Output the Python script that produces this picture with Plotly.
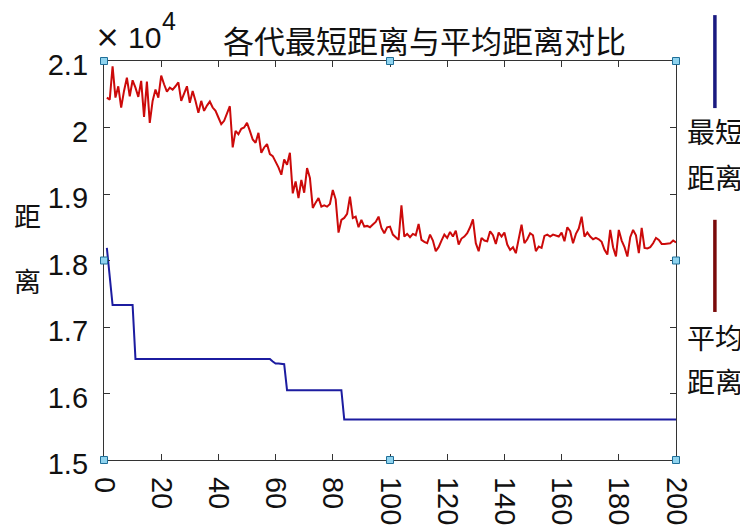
import plotly.graph_objects as go

generations = list(range(1, 201))

best_distance = (
    [18190, 17760] + [17330] * 8 + [16520] * 48 + [16480, 16450, 16450, 16450, 16440]
    + [16050] * 20 + [15610] * 117
)

mean_distance = [
    20450, 20420, 20920, 20450, 20620, 20300, 20550, 20750, 20470, 20710,
    20600, 20460, 20700, 20160, 20690, 20070, 20400, 20570, 20450, 20780,
    20650, 20540, 20600, 20570, 20620, 20680, 20400, 20500, 20620, 20370,
    20550, 20400, 20220, 20400, 20250, 20330, 20390, 20300, 20250, 20150,
    20050, 20100, 20200, 20320, 19700, 19950, 19900, 19980, 20000, 20070,
    19950, 19820, 19770, 19920, 19620, 19700, 19750, 19600, 19570, 19490,
    19400, 19290, 19520, 19440, 19620, 19010, 19190, 18940, 19210, 19020,
    19390, 19240, 18790, 18870, 18940, 18810, 18830, 18810, 18850, 19060,
    18920, 18420, 18610, 18640, 18700, 18960, 18640, 18660, 18500, 18610,
    18510, 18520, 18500, 18540, 18580, 18660, 18490, 18410, 18500, 18510,
    18390, 18350, 18310, 18830, 18360, 18400, 18350, 18400, 18380, 18550,
    18310, 18280, 18260, 18390, 18300, 18140, 18200, 18300, 18390, 18340,
    18430, 18360, 18450, 18240, 18330, 18360, 18410, 18500, 18620, 18260,
    18140, 18340, 18300, 18290, 18440, 18380, 18250, 18420, 18360, 18420,
    18240, 18160, 18200, 18110, 18300, 18540, 18260, 18320, 18410, 18380,
    18140, 18210, 18190, 18370, 18390, 18360, 18390, 18370, 18360, 18420,
    18290, 18500, 18440, 18260, 18400, 18480, 18660, 18360, 18420, 18360,
    18320, 18340, 18320, 18280, 18160, 18090, 18460, 18200, 18060, 18460,
    18300, 18200, 18060, 18350, 18460, 18380, 18110, 18490, 18190, 18180,
    18200, 18260, 18340, 18310, 18250, 18250, 18250, 18260, 18300, 18270,
]

x_ticks = [0, 20, 40, 60, 80, 100, 120, 140, 160, 180, 200]
y_ticks = [15000, 16000, 17000, 18000, 19000, 20000, 21000]
y_tick_labels = ["1.5", "1.6", "1.7", "1.8", "1.9", "2", "2.1"]

title_text = "各代最短距离与平均距离对比"
y_title_chars = ["距", "离"]
legend_best = ["最短", "距离"]
legend_mean = ["平均", "距离"]
scale_sign = "×"
scale_base = "10"
scale_exp = "4"

NUM_FONT = "Liberation Sans, Arial, sans-serif"
CJK_FONT = "Noto Sans CJK SC, sans-serif"
BLUE = "#1c1ca0"
RED = "#cc0a0a"

fig = go.Figure()
fig.add_trace(go.Scatter(x=generations, y=best_distance, mode="lines",
                         line=dict(color=BLUE, width=2), showlegend=False))
fig.add_trace(go.Scatter(x=generations, y=mean_distance, mode="lines",
                         line=dict(color=RED, width=2), showlegend=False))

axis_common = dict(showline=True, linecolor="#333333", linewidth=1.3, mirror="ticks",
                   ticks="inside", ticklen=6, tickcolor="#333333", showgrid=False,
                   zeroline=False, automargin=False,
                   tickfont=dict(family=NUM_FONT, size=29, color="#111111"))
fig.update_xaxes(range=[0, 200], tickvals=x_ticks, tickangle=90, ticklabelstandoff=10,
                 **axis_common)
fig.update_yaxes(range=[15000, 21000], tickvals=y_ticks, ticktext=y_tick_labels,
                 ticklabelstandoff=9, ticklabelshift=4, **axis_common)

shapes = []
# selection handles at the plot box corners / midpoints
for hx, hy in [(0, 1), (0.5, 1), (1, 1), (0, 0.5), (1, 0.5), (0, 0), (0.5, 0), (1, 0)]:
    shapes.append(dict(type="rect", xref="paper", yref="paper", xsizemode="pixel",
                       ysizemode="pixel", xanchor=hx, yanchor=hy, x0=-3.5, x1=3.5,
                       y0=-3.5, y1=3.5, fillcolor="#8fd3ee",
                       line=dict(color="#1f6f99", width=1)))
# legend lines (vertical)
shapes.append(dict(type="line", xref="paper", yref="paper", x0=1.068, x1=1.068,
                   y0=0.882, y1=1.115, line=dict(color="#1a1a80", width=3.5)))
shapes.append(dict(type="line", xref="paper", yref="paper", x0=1.068, x1=1.068,
                   y0=0.371, y1=0.602, line=dict(color="#7a0a0a", width=3.5)))


def note(text, x, y, size, font=CJK_FONT, xanchor="center"):
    return dict(text=text, xref="paper", yref="paper", x=x, y=y, xanchor=xanchor,
                yanchor="middle", showarrow=False,
                font=dict(family=font, size=size, color="#111111"))


annotations = [
    note(title_text, 0.561, 1.053, 31),
    note(scale_sign, 0.006, 1.062, 30, font="DejaVu Sans, sans-serif"),
    note(scale_base, 0.0385, 1.058, 30, font=NUM_FONT, xanchor="left"),
    note(scale_exp, 0.114, 1.099, 25, font=NUM_FONT),
    note(y_title_chars[0], -0.133, 0.614, 27),
    note(y_title_chars[1], -0.133, 0.451, 27),
]
for txt, yp in [(legend_best[0], 0.825), (legend_best[1], 0.709),
                (legend_mean[0], 0.308), (legend_mean[1], 0.198)]:
    annotations.append(note(txt, 1.068, yp, 28))

# the page body has an 8px default margin, so the figure is 8px smaller than the window
fig.update_layout(width=740, height=520,
                  margin=dict(l=96, r=72, t=53, b=68, autoexpand=False),
                  paper_bgcolor="white", plot_bgcolor="white",
                  shapes=shapes, annotations=annotations, showlegend=False)

fig.write_html("out.html")
